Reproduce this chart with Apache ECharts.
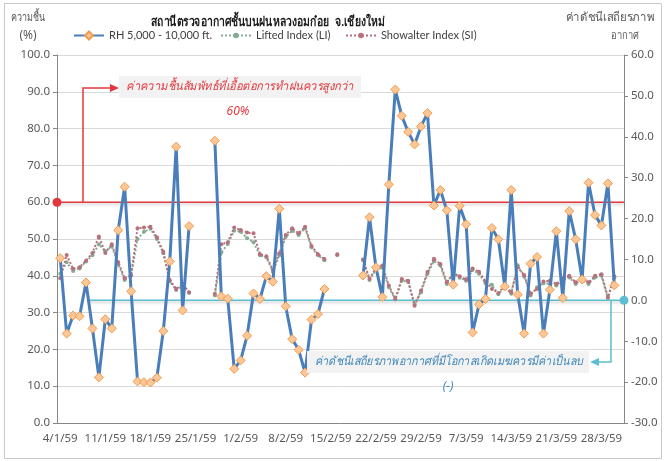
<!DOCTYPE html>
<html>
<head>
<meta charset="utf-8">
<script src="https://cdn.jsdelivr.net/npm/echarts@6/dist/echarts.min.js"></script>
<style>
  html, body { margin: 0; padding: 0; background: #fff; }
  #chart { width: 666px; height: 461px; }
</style>
</head>
<body>
<div id="chart"></div>
<script>
// วันที่ (พ.ศ. 2559)
var dates = [
  '4/1/59','5/1/59','6/1/59','7/1/59','8/1/59','9/1/59','10/1/59','11/1/59','12/1/59','13/1/59',
  '14/1/59','15/1/59','16/1/59','17/1/59','18/1/59','19/1/59','20/1/59','21/1/59','22/1/59','23/1/59',
  '24/1/59','25/1/59','26/1/59','27/1/59','28/1/59','29/1/59','30/1/59','31/1/59',
  '1/2/59','2/2/59','3/2/59','4/2/59','5/2/59','6/2/59','7/2/59','8/2/59','9/2/59','10/2/59',
  '11/2/59','12/2/59','13/2/59','14/2/59','15/2/59','16/2/59','17/2/59','18/2/59','19/2/59','20/2/59',
  '21/2/59','22/2/59','23/2/59','24/2/59','25/2/59','26/2/59','27/2/59','28/2/59','29/2/59',
  '1/3/59','2/3/59','3/3/59','4/3/59','5/3/59','6/3/59','7/3/59','8/3/59','9/3/59','10/3/59',
  '11/3/59','12/3/59','13/3/59','14/3/59','15/3/59','16/3/59','17/3/59','18/3/59','19/3/59','20/3/59',
  '21/3/59','22/3/59','23/3/59','24/3/59','25/3/59','26/3/59','27/3/59','28/3/59','29/3/59','30/3/59','31/3/59'
];

// ความชื้นสัมพัทธ์ 5,000 - 10,000 ft. (%)
var rh = [
  44.8, 24.3, 29.2, 29.0, 38.2, 25.7, 12.4, 28.2, 25.7, 52.4,
  64.2, 35.8, 11.3, 11.1, 11.0, 12.3, 25.0, 43.9, 75.1, 30.6,
  53.5, null, null, null, 76.7, 34.4, 33.8, 14.7, 17.0, 23.7,
  35.2, 33.7, 39.9, 38.4, 58.2, 31.7, 22.8, 19.9, 13.7, 28.1,
  29.6, 36.4, null, null, null, null, null, 40.1, 55.9, 42.3,
  34.2, 64.8, 90.6, 83.5, 79.1, 75.7, 80.6, 84.2, 59.1, 63.3,
  57.8, 37.6, 59.0, 54.0, 24.6, 32.2, 33.7, 53.0, 49.9, 37.1,
  63.3, 34.9, 24.3, 43.3, 45.1, 24.3, 36.2, 52.1, 34.0, 57.6,
  49.9, 39.0, 65.3, 56.5, 53.7, 65.1, 37.4, null
];

// Lifted Index (LI)
var li = [
  6.5, 9.3, 7.2, 7.8, 9.5, 11.0, 13.7, 12.0, 13.2, 8.8,
  5.0, 6.0, 15.0, 16.8, 17.5, 15.0, 11.5, 4.6, 2.5, 3.6,
  1.8, null, null, null, 1.2, 11.7, 13.8, 17.0, 16.8, 15.2,
  14.2, 11.0, 10.5, 7.0, 11.0, 15.5, 17.0, 16.0, 17.6, 13.0,
  11.0, 9.8, null, 11.0, null, null, null, 9.8, 5.0, 7.5,
  8.0, 3.2, 0.2, 4.8, 4.5, -1.0, 2.0, 6.5, 9.6, 8.5,
  4.0, 7.0, 5.5, 4.8, 7.4, 6.5, 4.2, 3.8, 1.5, 3.2,
  1.6, 8.6, 5.8, 1.2, 3.2, 4.2, 4.0, 3.6, 5.0, 5.6,
  4.0, 5.0, 4.0, 5.6, 6.0, 0.5, 5.5, null
];

// Showalter Index (SI)
var si = [
  5.4, 11.1, 7.7, 8.1, 9.7, 11.6, 15.6, 11.6, 13.7, 9.3,
  5.4, 6.2, 17.6, 17.8, 18.0, 15.4, 11.9, 5.0, 2.8, 4.0,
  2.0, null, null, null, 1.6, 13.7, 14.2, 17.8, 17.2, 16.6,
  16.4, 11.3, 10.8, 7.5, 11.5, 16.0, 17.6, 16.4, 18.0, 13.3,
  11.3, 10.1, null, 11.3, null, null, null, 10.0, 5.3, 7.9,
  8.5, 3.6, 0.4, 5.2, 4.8, -1.3, 2.4, 6.9, 10.2, 8.9,
  4.4, 6.4, 5.9, 5.1, 7.8, 7.0, 4.6, 2.8, 1.8, 3.6,
  2.0, 8.1, 6.2, 1.6, 2.8, 4.6, 4.8, 4.0, 5.4, 6.0,
  4.4, 5.4, 4.4, 6.0, 6.4, 0.8, 5.9, null
];

var FONT = "'Noto Sans', 'DejaVu Sans', sans-serif";
var LFONT = "Lato, 'Noto Sans', sans-serif";
var GRAY = '#595959';
var AXIS = '#868686';

var chart = echarts.init(document.getElementById('chart'));

var legendText = { fontFamily: LFONT, fontSize: 11, color: '#404040' };
var legendBase = { top: 30, padding: 0, itemWidth: 30, itemGap: 4, textStyle: legendText };

chart.setOption({
  animation: false,
  textStyle: { fontFamily: FONT },
  legend: [
    Object.assign({ data: ['RH 5,000 - 10,000 ft.'], left: 73, itemHeight: 10 }, legendBase),
    Object.assign({ data: ['Lifted Index (LI)'], left: 220, itemHeight: 7 }, legendBase),
    Object.assign({ data: ['Showalter Index (SI)'], left: 345, itemHeight: 7 }, legendBase)
  ],
  grid: { left: 57, right: 42, top: 55, bottom: 38 },
  xAxis: [
    {
      type: 'category',
      data: dates,
      boundaryGap: true,
      axisLine: { lineStyle: { color: AXIS } },
      axisTick: { alignWithLabel: true, interval: 0, inside: true, length: 3, lineStyle: { color: AXIS } },
      axisLabel: { interval: 6, color: GRAY, fontSize: 11.5, margin: 10 },
      splitLine: { show: false }
    },
    {
      type: 'category',
      data: dates,
      position: 'bottom',
      boundaryGap: true,
      axisLine: { show: false },
      axisTick: { alignWithLabel: true, interval: 6, length: 5, lineStyle: { color: AXIS } },
      axisLabel: { show: false },
      splitLine: { show: false }
    }
  ],
  yAxis: [
    {
      type: 'value', min: 0, max: 100, interval: 10,
      axisLine: { show: true, lineStyle: { color: AXIS } },
      axisTick: { show: true, length: 4, lineStyle: { color: AXIS } },
      axisLabel: { color: GRAY, fontSize: 11.5, margin: 7, formatter: function (v) { return v.toFixed(1); } },
      splitLine: { lineStyle: { color: '#d9d9d9' } }
    },
    {
      type: 'value', min: -30, max: 60, interval: 10, position: 'right',
      axisLine: { show: true, lineStyle: { color: AXIS } },
      axisTick: { show: true, length: 4, lineStyle: { color: AXIS } },
      axisLabel: { color: GRAY, fontSize: 11.5, margin: 7, formatter: function (v) { return v.toFixed(1); } },
      splitLine: { show: false }
    }
  ],
  series: [
    {
      name: 'Lifted Index (LI)', type: 'line', yAxisIndex: 1, data: li,
      symbol: 'circle', symbolSize: 4, showAllSymbol: true, z: 3,
      lineStyle: { color: '#86ab94', width: 2, type: 'dotted' },
      itemStyle: { color: '#86ab94' }
    },
    {
      name: 'Showalter Index (SI)', type: 'line', yAxisIndex: 1, data: si,
      symbol: 'circle', symbolSize: 4, showAllSymbol: true, z: 4,
      lineStyle: { color: '#b7707c', width: 2, type: 'dotted' },
      itemStyle: { color: '#b7707c' }
    },
    {
      name: 'RH 5,000 - 10,000 ft.', type: 'line', yAxisIndex: 0, data: rh,
      symbol: 'diamond', symbolSize: 9, showAllSymbol: true, z: 5,
      lineStyle: { color: '#4a7ebb', width: 3 },
      itemStyle: { color: '#fbc796', borderColor: '#f09a4e', borderWidth: 1 }
    }
  ]
});

// ชื่อกราฟ ป้ายชื่อแกน และคำอธิบายเส้นเกณฑ์
var xL = 57, xR = 624;
var y60 = chart.convertToPixel({ yAxisIndex: 0 }, 60);
var y0 = chart.convertToPixel({ yAxisIndex: 1 }, 0);
var RED = '#e2383d';
var CYAN = '#5bbfcf';
var BLUE_TXT = '#3d85b8';
var lineShadow = { shadowColor: 'rgba(0,0,0,0.22)', shadowBlur: 3, shadowOffsetY: 2 };

function label(x, y, text, font, fill, sx, z) {
  return {
    type: 'text', x: x, y: y, scaleX: sx || 1, z: z || 5,
    style: { text: text, fill: fill, font: font, align: 'center', verticalAlign: 'middle' }
  };
}

chart.setOption({
  graphic: [
    { type: 'rect', z: -10, shape: { x: 4.5, y: 3.5, width: 657, height: 455 }, style: { fill: 'none', stroke: '#c8c8c8', lineWidth: 1 } },
    label(268, 22, 'สถานีตรวจอากาศชั้นบนฝนหลวงอมก๋อย  จ.เชียงใหม่', 'bold 13px ' + FONT, '#1a1a1a', 0.8),
    label(28, 18, 'ความชื้น', '12px ' + FONT, GRAY, 0.75),
    label(28, 36, '(%)', '12px ' + FONT, GRAY),
    label(610, 18, 'ค่าดัชนีเสถียรภาพ', '12px ' + FONT, GRAY, 0.95),
    label(625, 36, 'อากาศ', '11px ' + FONT, GRAY, 0.85),

    // เส้นเกณฑ์ความชื้น 60%
    { type: 'line', z: 1, shape: { x1: xL, y1: y60, x2: xR, y2: y60 }, style: Object.assign({ stroke: RED, lineWidth: 1.5 }, lineShadow) },
    { type: 'circle', z: 20, shape: { cx: xL, cy: y60, r: 4.5 }, style: { fill: RED } },
    { type: 'polyline', z: 1, shape: { points: [[83, y60], [83, 88], [112, 88]] }, style: { stroke: RED, lineWidth: 1.5, fill: 'none' } },
    { type: 'polygon', z: 1, shape: { points: [[110, 84], [119, 88], [110, 92]] }, style: { fill: RED } },
    { type: 'rect', z: 10, shape: { x: 119, y: 76, width: 242, height: 22 }, style: { fill: '#f2f2f2' } },
    label(240, 87, 'ค่าความชื้นสัมพัทธ์ที่เอื้อต่อการทำฝนควรสูงกว่า', 'italic 12px ' + FONT, RED, 0.93, 11),
    label(238, 112, '60%', 'italic 12px ' + FONT, RED, 1, 11),

    // เส้นเกณฑ์ดัชนีเสถียรภาพ 0
    { type: 'line', z: 1, shape: { x1: 88, y1: y0, x2: xR, y2: y0 }, style: Object.assign({ stroke: CYAN, lineWidth: 1.5 }, lineShadow) },
    { type: 'circle', z: 20, shape: { cx: xR, cy: y0, r: 4.5 }, style: { fill: CYAN } },
    { type: 'polyline', z: 1, shape: { points: [[611, y0], [611, 362], [598, 362]] }, style: { stroke: CYAN, lineWidth: 1.5, fill: 'none' } },
    { type: 'polygon', z: 1, shape: { points: [[599, 358], [590, 362], [599, 366]] }, style: { fill: CYAN } },
    { type: 'rect', z: 10, shape: { x: 307, y: 351, width: 282, height: 22 }, style: { fill: '#f2f2f2' } },
    label(449, 362, 'ค่าดัชนีเสถียรภาพอากาศที่มีโอกาสเกิดเมฆควรมีค่าเป็นลบ', 'italic 12px ' + FONT, BLUE_TXT, 0.9, 11),
    label(448, 387, '(-)', 'italic 12px ' + FONT, BLUE_TXT, 1, 11)
  ]
});
</script>
</body>
</html>
